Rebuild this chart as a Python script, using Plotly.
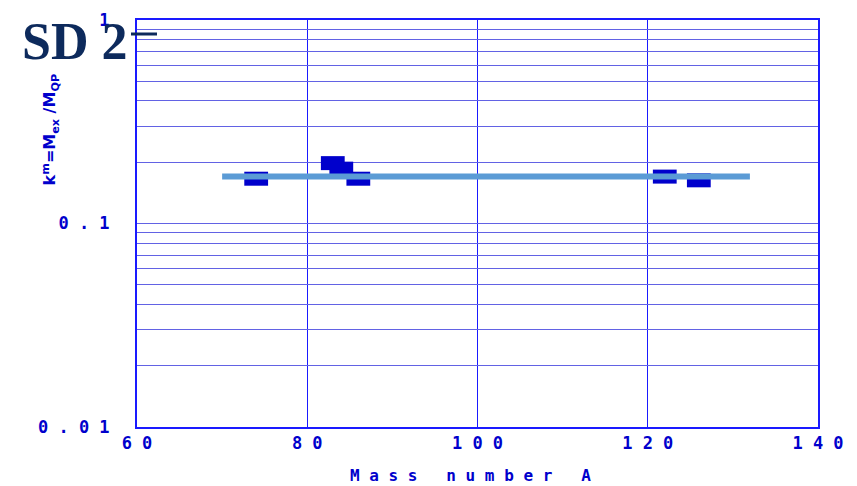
import plotly.graph_objects as go

# Data
mass_number = [74, 83, 84, 86, 122, 126]
k_ratio = [0.166, 0.198, 0.186, 0.166, 0.170, 0.163]
fit_x = [70, 132]
fit_y = [0.170, 0.170]

x_tickvals = [60, 80, 100, 120, 140]
x_ticktext = ["6 0", "8 0", "1 0 0", "1 2 0", "1 4 0"]
y_decades = {0.01: "0 . 0 1", 0.1: "0 . 1", 1: "1"}

y_tickvals = []
y_ticktext = []
for base in [0.01, 0.1]:
    for m in range(1, 10):
        v = round(base * m, 4)
        y_tickvals.append(v)
        y_ticktext.append(y_decades.get(v, ""))
y_tickvals.append(1)
y_ticktext.append("1")

BLUE = "#0000cc"
LINEBLUE = "#1a1aff"
NAVY = "#0d2a5c"
MONO = "DejaVu Sans Mono"

fig = go.Figure()
fig.add_trace(go.Scatter(
    x=mass_number, y=k_ratio, mode="markers",
    marker=dict(symbol="line-ew", size=17,
                line=dict(width=14, color=BLUE)),
    showlegend=False, cliponaxis=False,
))
fig.add_trace(go.Scatter(
    x=fit_x, y=fit_y, mode="lines",
    line=dict(color="#5b9bd5", width=6),
    showlegend=False,
))

fig.update_layout(
    width=857, height=486,
    margin=dict(l=137, r=39, t=20, b=59),
    paper_bgcolor="white", plot_bgcolor="white",
    font=dict(family=MONO, color=BLUE),
    xaxis=dict(
        range=[60, 140], tickvals=x_tickvals, ticktext=x_ticktext,
        showgrid=True, gridcolor=LINEBLUE, gridwidth=1,
        showline=True, linecolor=LINEBLUE, linewidth=2, mirror=True,
        zeroline=False, ticks="", ticklabelstandoff=0, automargin=False,
        tickfont=dict(family=MONO, size=17, color=BLUE, weight="bold"),
    ),
    yaxis=dict(
        type="log", range=[-2, 0],
        tickvals=y_tickvals, ticktext=y_ticktext,
        showgrid=True, gridcolor="#6262e4", gridwidth=1,
        showline=True, linecolor=LINEBLUE, linewidth=2, mirror=True,
        zeroline=False, ticks="", ticklabelstandoff=22, automargin=False,
        tickfont=dict(family=MONO, size=17, color=BLUE, weight="bold"),
    ),
    annotations=[
        dict(text="SD 2", xref="paper", yref="paper",
             x=-0.1718, y=0.948, xanchor="left", yanchor="middle",
             showarrow=False,
             font=dict(family="Liberation Serif", size=52, color=NAVY, weight="bold")),
        dict(text="k<sup>m</sup>=M<sub>ex</sub> /M<sub>QP</sub>",
             xref="paper", yref="paper", x=-0.127, y=0.73,
             xanchor="center", yanchor="middle", textangle=-90,
             showarrow=False,
             font=dict(family="DejaVu Sans", size=16, color=BLUE, weight="bold")),
        dict(text="M a s s   n u m b e r   A",
             xref="paper", yref="paper", x=0.49, y=-0.118,
             xanchor="center", yanchor="middle", showarrow=False,
             font=dict(family=MONO, size=16, color=BLUE, weight="bold")),
    ],
    shapes=[
        dict(type="line", xref="paper", yref="paper",
             x0=-0.0088, x1=0.0294, y0=0.9656, y1=0.9656,
             line=dict(color=NAVY, width=3)),
    ],
)

fig.write_html("out.html")
